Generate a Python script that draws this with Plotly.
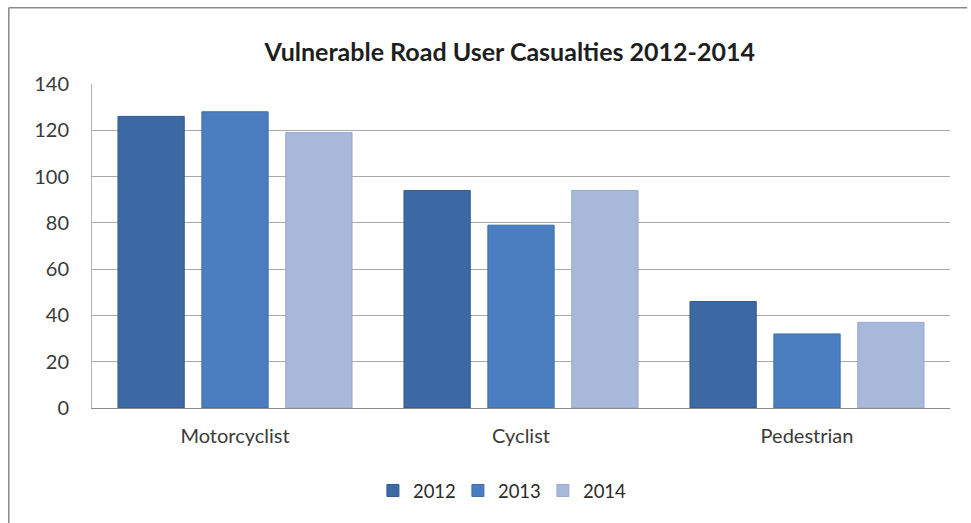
import plotly.graph_objects as go

categories = ["Motorcyclist", "Cyclist", "Pedestrian"]
years = ["2012", "2013", "2014"]
casualties_2012 = [126, 94, 46]
casualties_2013 = [128, 79, 32]
casualties_2014 = [119, 94, 37]
y_ticks = [0, 20, 40, 60, 80, 100, 120, 140]

series = [casualties_2012, casualties_2013, casualties_2014]
fills = ["#3c68a3", "#4a7ec0", "#a8b8da"]
edges = ["#33598d", "#3f6ea9", "#97a8cc"]

fig = go.Figure()
for name, vals, fc, ec in zip(years, series, fills, edges):
    fig.add_trace(go.Bar(
        x=categories, y=vals, name=name,
        marker=dict(color=fc, line=dict(color=ec, width=1)),
    ))

font_family = "Lato, 'Open Sans', sans-serif"

fig.update_layout(
    width=971, height=523,
    margin=dict(l=92, r=21, t=84, b=115),
    paper_bgcolor="white", plot_bgcolor="white",
    barmode="group", bargap=0.12, bargroupgap=0.21,
    font=dict(family=font_family, color="#3a3a3a", size=19),
    title=dict(
        text="<b>Vulnerable Road User Casualties 2012-2014</b>",
        x=0.525, xanchor="center", y=0.9, yanchor="middle",
        font=dict(family=font_family, size=25, color="#1e1e1e"),
    ),
    xaxis=dict(
        showgrid=False, showline=True, linecolor="#8c8c8c", linewidth=1.3,
        ticks="", ticklabelstandoff=10,
        tickfont=dict(size=20, color="#3a3a3a"),
    ),
    yaxis=dict(
        range=[0, 140], tickvals=y_ticks, showgrid=True,
        gridcolor="#a9a9a9", gridwidth=1, zeroline=False,
        showline=True, linecolor="#b0b0b0", linewidth=1,
        ticks="", ticklabelstandoff=18,
        tickfont=dict(size=20, color="#3a3a3a"),
    ),
    legend=dict(
        orientation="h", x=0.476, xanchor="center", y=-0.256, yanchor="middle",
        font=dict(size=18.5, color="#2a2a2a"), itemwidth=30,
        entrywidth=40, entrywidthmode="pixels",
        traceorder="normal",
    ),
    showlegend=True,
)
# outer chart frame (top and left edges)
fig.add_shape(type="line", xref="paper", yref="paper",
              x0=-0.097, x1=1.02, y0=1.235, y1=1.235,
              line=dict(color="#8a8a8a", width=1.5))
fig.add_shape(type="line", xref="paper", yref="paper",
              x0=-0.097, x1=-0.097, y0=1.235, y1=-0.36,
              line=dict(color="#8a8a8a", width=1.5))

fig.write_html("out.html")
